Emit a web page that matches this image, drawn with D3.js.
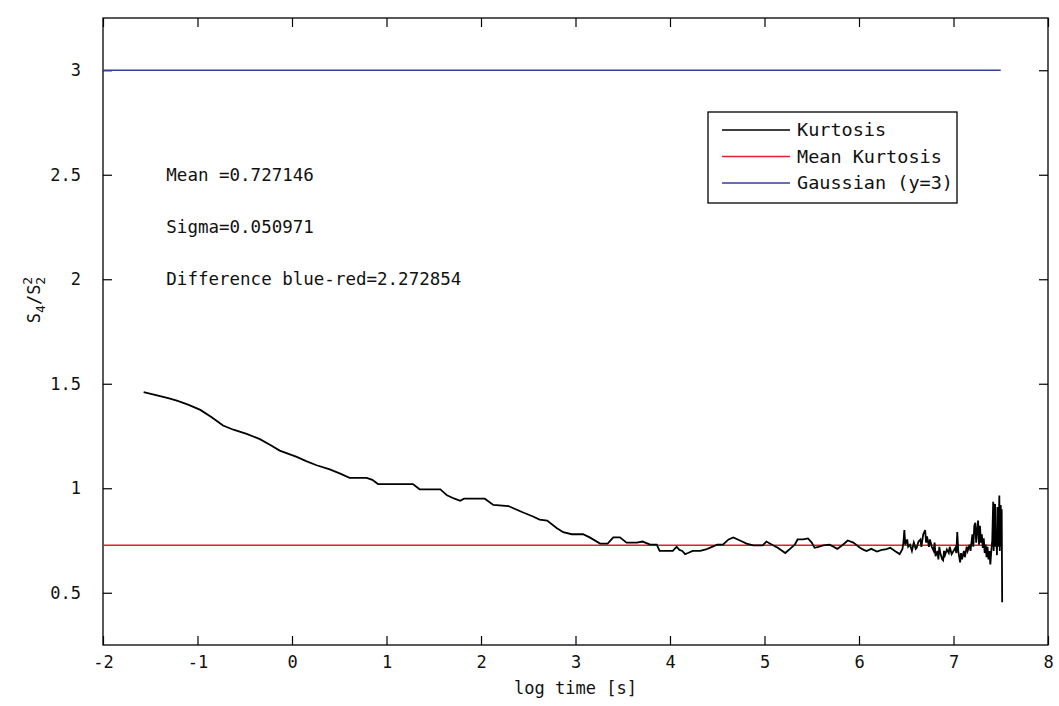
<!DOCTYPE html>
<html>
<head>
<meta charset="utf-8">
<script src="https://cdn.jsdelivr.net/npm/d3@7"></script>
<style>
  body { margin: 0; background: #fff; }
  text { font-family: "DejaVu Sans Mono", monospace; }
</style>
</head>
<body>
<div id="chart-area"></div>
<script>
// Data
var logTime = [
  -1.57, -1.45, -1.30, -1.21, -1.10, -0.97, -0.85, -0.73, -0.62, -0.48,
  -0.34, -0.22, -0.13, 0.05, 0.15, 0.26, 0.40, 0.51, 0.61, 0.79,
  0.85, 0.91, 1.04, 1.28, 1.35, 1.57, 1.64, 1.72, 1.78, 1.82,
  1.88, 2.04, 2.13, 2.29, 2.44, 2.55, 2.62, 2.70, 2.80, 2.87,
  2.96, 3.08, 3.15, 3.26, 3.34, 3.40, 3.47, 3.54, 3.65, 3.71,
  3.79, 3.86, 3.89, 4.03, 4.07, 4.10, 4.13, 4.16, 4.19, 4.24,
  4.32, 4.38, 4.42, 4.50, 4.56, 4.62, 4.67, 4.74, 4.81, 4.88,
  4.98, 5.02, 5.08, 5.14, 5.22, 5.27, 5.32, 5.35, 5.41, 5.46,
  5.50, 5.53, 5.57, 5.62, 5.69, 5.73, 5.77, 5.83, 5.88, 5.94,
  6.01, 6.05, 6.08, 6.13, 6.19, 6.24, 6.28, 6.33, 6.38, 6.43,
  6.46, 6.47, 6.48, 6.49, 6.51, 6.52, 6.54, 6.56, 6.58, 6.60,
  6.61, 6.63, 6.65, 6.66, 6.68, 6.70, 6.71, 6.72, 6.74, 6.75,
  6.77, 6.79, 6.80, 6.81, 6.83, 6.84, 6.85, 6.86, 6.88, 6.89,
  6.90, 6.91, 6.93, 6.95, 6.96, 6.98, 7.00, 7.02, 7.03, 7.04,
  7.05, 7.07, 7.08, 7.09, 7.11, 7.12, 7.14, 7.15, 7.17, 7.18,
  7.20, 7.21, 7.22, 7.23, 7.24, 7.25, 7.26, 7.27, 7.28, 7.29,
  7.30, 7.31, 7.32, 7.33, 7.34, 7.35, 7.36, 7.37, 7.38, 7.39,
  7.40, 7.41, 7.42, 7.425, 7.43, 7.44, 7.445, 7.45, 7.46, 7.465,
  7.47, 7.48, 7.485, 7.49, 7.495, 7.50, 7.505, 7.51, 7.515
];
var kurtosis = [
  1.46, 1.447, 1.43, 1.418, 1.40, 1.375, 1.34, 1.30, 1.28, 1.26,
  1.235, 1.205, 1.18, 1.15, 1.13, 1.11, 1.09, 1.07, 1.05, 1.05,
  1.04, 1.02, 1.02, 1.02, 0.995, 0.995, 0.966, 0.95, 0.94, 0.95,
  0.95, 0.95, 0.92, 0.915, 0.885, 0.865, 0.85, 0.845, 0.81, 0.79,
  0.78, 0.78, 0.765, 0.735, 0.735, 0.765, 0.765, 0.74, 0.74, 0.745,
  0.73, 0.73, 0.70, 0.70, 0.72, 0.705, 0.70, 0.685, 0.69, 0.70,
  0.70, 0.707, 0.715, 0.73, 0.73, 0.755, 0.765, 0.75, 0.735, 0.727,
  0.727, 0.745, 0.73, 0.715, 0.69, 0.71, 0.73, 0.755, 0.755, 0.76,
  0.74, 0.715, 0.72, 0.727, 0.73, 0.72, 0.71, 0.73, 0.75, 0.74,
  0.715, 0.705, 0.70, 0.71, 0.697, 0.705, 0.707, 0.715, 0.70, 0.685,
  0.71, 0.74, 0.80, 0.73, 0.755, 0.72, 0.73, 0.70, 0.74, 0.71,
  0.715, 0.745, 0.755, 0.72, 0.78, 0.80, 0.74, 0.77, 0.72, 0.755,
  0.72, 0.70, 0.74, 0.675, 0.70, 0.66, 0.72, 0.69, 0.66, 0.655,
  0.70, 0.68, 0.707, 0.69, 0.72, 0.685, 0.70, 0.715, 0.69, 0.79,
  0.70, 0.645, 0.69, 0.66, 0.70, 0.67, 0.72, 0.70, 0.73, 0.70,
  0.78, 0.72, 0.82, 0.835, 0.74, 0.80, 0.845, 0.73, 0.82, 0.74,
  0.78, 0.715, 0.76, 0.69, 0.73, 0.67, 0.72, 0.66, 0.70, 0.635,
  0.70, 0.75, 0.935, 0.70, 0.88, 0.925, 0.72, 0.80, 0.68, 0.91,
  0.72, 0.85, 0.965, 0.70, 0.88, 0.92, 0.72, 0.90, 0.455
];
var meanKurtosis = 0.727146;
var gaussian = 3;
var refLineX = [-2, 7.5];
var xTicks = [-2, -1, 0, 1, 2, 3, 4, 5, 6, 7, 8];
var yTicks = [0.5, 1, 1.5, 2, 2.5, 3];
var notes = ["Mean =0.727146", "Sigma=0.050971", "Difference blue-red=2.272854"];
var noteY = [2.5, 2.25, 2];
var legendLabels = ["Kurtosis", "Mean Kurtosis", "Gaussian (y=3)"];
var legendColors = ["#000000", "#e0202c", "#3040a0"];

var W = 1059, H = 706;
var margin = { top: 18, right: 11, bottom: 61, left: 103 };
var width = W - margin.left - margin.right;
var height = H - margin.top - margin.bottom;

var svg = d3.select("#chart-area")
  .append("svg")
  .attr("width", W)
  .attr("height", H);

var g = svg.append("g")
  .attr("transform", "translate(" + margin.left + "," + margin.top + ")");

// Scales
var x = d3.scaleLinear().domain([-2, 8]).range([0, width]);
var y = d3.scaleLinear().domain([0.25, 3.25]).range([height, 0]);

// Frame
g.append("rect")
  .attr("width", width)
  .attr("height", height)
  .attr("fill", "none")
  .attr("stroke", "#000")
  .attr("stroke-width", 1.3);

// Axes with inward ticks (MATLAB style), mirrored on top/right
var tickLen = 9;
var fmt = (d) => String(d);
g.append("g")
  .attr("transform", "translate(0," + height + ")")
  .call(d3.axisBottom(x).tickValues(xTicks).tickSizeInner(-tickLen).tickSizeOuter(0).tickPadding(11).tickFormat(fmt));
g.append("g")
  .call(d3.axisTop(x).tickValues(xTicks).tickSizeInner(-tickLen).tickSizeOuter(0).tickFormat(""));
g.append("g")
  .call(d3.axisLeft(y).tickValues(yTicks).tickSizeInner(-tickLen).tickSizeOuter(0).tickPadding(22).tickFormat(fmt));
g.append("g")
  .attr("transform", "translate(" + width + ",0)")
  .call(d3.axisRight(y).tickValues(yTicks).tickSizeInner(-tickLen).tickSizeOuter(0).tickFormat(""));

g.selectAll(".domain").remove();
g.selectAll(".tick line").attr("stroke", "#000").attr("stroke-width", 1.2);
g.selectAll(".tick text")
  .attr("font-family", "DejaVu Sans Mono")
  .attr("font-size", "17px")
  .attr("fill", "#111");

// Reference lines
var hline = d3.line().x((d) => x(d[0])).y((d) => y(d[1]));
g.append("path")
  .datum(refLineX.map((v) => [v, gaussian]))
  .attr("d", hline)
  .attr("stroke", legendColors[2])
  .attr("stroke-width", 1.4)
  .attr("fill", "none");
g.append("path")
  .datum(refLineX.map((v) => [v, meanKurtosis]))
  .attr("d", hline)
  .attr("stroke", legendColors[1])
  .attr("stroke-width", 1.4)
  .attr("fill", "none");

// Kurtosis curve (step-like as in the source)
var pts = logTime.map((t, i) => [t, kurtosis[i]]);
g.append("path")
  .datum(pts)
  .attr("d", hline)
  .attr("stroke", "#000")
  .attr("stroke-width", 1.8)
  .attr("stroke-linejoin", "miter")
  .attr("fill", "none");

// Annotations
g.selectAll(".note")
  .data(notes)
  .enter()
  .append("text")
  .attr("class", "note")
  .attr("x", x(-1.33))
  .attr("y", (d, i) => y(noteY[i]) + 6)
  .attr("font-size", "17.5px")
  .attr("fill", "#111")
  .text((d) => d);

// Legend
var lg = svg.append("g").attr("transform", "translate(708,112)");
lg.append("rect")
  .attr("width", 249)
  .attr("height", 91)
  .attr("fill", "#fff")
  .attr("stroke", "#000")
  .attr("stroke-width", 1.3);
legendLabels.forEach((lab, i) => {
  var yy = 18 + i * 26.5;
  lg.append("line")
    .attr("x1", 14).attr("x2", 82)
    .attr("y1", yy).attr("y2", yy)
    .attr("stroke", legendColors[i])
    .attr("stroke-width", 1.4);
  lg.append("text")
    .attr("x", 89)
    .attr("y", yy + 6)
    .attr("font-size", "18.5px")
    .attr("fill", "#111")
    .text(lab);
});

// Axis labels
svg.append("text")
  .attr("x", margin.left + width / 2)
  .attr("y", 694)
  .attr("text-anchor", "middle")
  .attr("font-size", "17px")
  .attr("fill", "#111")
  .text("log time [s]");

var yl = svg.append("text")
  .attr("transform", "translate(40,300) rotate(-90)")
  .attr("text-anchor", "middle")
  .attr("font-size", "17px")
  .attr("fill", "#111");
yl.append("tspan").text("S");
yl.append("tspan").attr("dy", 5).attr("font-size", "13px").text("4");
yl.append("tspan").attr("dy", -5).text("/S");
yl.append("tspan").attr("dy", -8).attr("font-size", "13px").text("2");
yl.append("tspan").attr("dx", -8).attr("dy", 13).attr("font-size", "13px").text("2");
</script>
</body>
</html>
